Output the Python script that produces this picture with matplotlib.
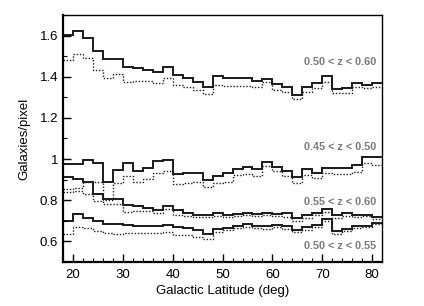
import numpy as np
import matplotlib
matplotlib.use('Agg')
import matplotlib.pyplot as plt
import matplotlib.ticker as ticker

plt.rcParams['font.family'] = ['Liberation Sans', 'DejaVu Sans']

# bin edges, 2 deg wide
lat_edges = np.arange(18, 84, 2)

# 0.50 < z < 0.60
top_solid = [1.603, 1.622, 1.587, 1.523, 1.484, 1.484, 1.447, 1.440, 1.435, 1.423, 1.447,
             1.410, 1.395, 1.375, 1.351, 1.402, 1.395, 1.395, 1.395, 1.381, 1.390, 1.365,
             1.349, 1.310, 1.348, 1.369, 1.403, 1.341, 1.345, 1.370, 1.360, 1.370]
top_dotted = [1.482, 1.512, 1.490, 1.431, 1.396, 1.412, 1.376, 1.380, 1.380, 1.371, 1.395,
              1.359, 1.351, 1.335, 1.316, 1.362, 1.356, 1.356, 1.356, 1.351, 1.373, 1.336,
              1.327, 1.292, 1.327, 1.344, 1.376, 1.320, 1.323, 1.351, 1.344, 1.351]

# 0.45 < z < 0.50
z45_solid = [0.975, 0.975, 0.995, 0.980, 0.890, 0.945, 0.980, 0.940, 0.955, 0.990, 0.993,
             0.927, 0.930, 0.930, 0.896, 0.918, 0.930, 0.952, 0.960, 0.950, 0.984, 0.963,
             0.944, 0.915, 0.950, 0.934, 0.955, 0.955, 0.955, 0.971, 1.010, 1.008]
z45_dotted = [0.855, 0.860, 0.890, 0.890, 0.800, 0.883, 0.918, 0.890, 0.902, 0.934, 0.944,
              0.879, 0.885, 0.890, 0.863, 0.885, 0.890, 0.923, 0.925, 0.918, 0.966, 0.944,
              0.918, 0.882, 0.923, 0.907, 0.931, 0.929, 0.929, 0.939, 0.979, 0.971]

# 0.55 < z < 0.60
z55_solid = [0.912, 0.903, 0.888, 0.832, 0.808, 0.805, 0.775, 0.771, 0.764, 0.752, 0.771,
             0.751, 0.737, 0.727, 0.727, 0.736, 0.729, 0.735, 0.740, 0.733, 0.737, 0.733,
             0.737, 0.713, 0.727, 0.740, 0.757, 0.729, 0.737, 0.730, 0.730, 0.720]
z55_dotted = [0.840, 0.845, 0.830, 0.795, 0.780, 0.780, 0.742, 0.746, 0.746, 0.737, 0.755,
              0.730, 0.721, 0.717, 0.717, 0.725, 0.720, 0.722, 0.727, 0.722, 0.727, 0.724,
              0.720, 0.697, 0.713, 0.727, 0.742, 0.713, 0.722, 0.718, 0.722, 0.708]

# 0.50 < z < 0.55
z50_solid = [0.701, 0.733, 0.713, 0.697, 0.685, 0.684, 0.680, 0.673, 0.674, 0.676, 0.681,
             0.670, 0.665, 0.657, 0.638, 0.662, 0.665, 0.676, 0.685, 0.676, 0.673, 0.681,
             0.673, 0.657, 0.670, 0.681, 0.710, 0.648, 0.660, 0.673, 0.676, 0.687]
z50_dotted = [0.634, 0.670, 0.665, 0.648, 0.640, 0.636, 0.641, 0.641, 0.641, 0.641, 0.645,
              0.632, 0.632, 0.621, 0.611, 0.645, 0.655, 0.665, 0.672, 0.665, 0.662, 0.668,
              0.660, 0.645, 0.657, 0.668, 0.697, 0.638, 0.650, 0.665, 0.672, 0.682]

labels = ['0.50 < z < 0.60', '0.45 < z < 0.50', '0.55 < z < 0.60', '0.50 < z < 0.55']
label_y = [1.47, 1.058, 0.79, 0.576]

fig = plt.figure(figsize=(4.24, 3.06), dpi=100)
ax = fig.add_axes([0.149, 0.144, 0.752, 0.807])

for solid, dotted in [(top_solid, top_dotted), (z45_solid, z45_dotted),
                      (z55_solid, z55_dotted), (z50_solid, z50_dotted)]:
    ax.stairs(solid, lat_edges, baseline=None, color='#1a1a1a', lw=1.4)
    ax.stairs(dotted, lat_edges, baseline=None, color='#1a1a1a', lw=1.0, ls=(0, (1, 1.3)))

for txt, yy in zip(labels, label_y):
    ax.text(80.8, yy, txt, ha='right', va='center', fontsize=7.8, fontweight='bold',
            color='#7a7a7a')

ax.set_xlim(18, 82)
ax.set_ylim(0.5, 1.7)
ax.xaxis.set_major_locator(ticker.MultipleLocator(10))
ax.xaxis.set_minor_locator(ticker.MultipleLocator(2))
ax.yaxis.set_major_locator(ticker.MultipleLocator(0.2))
ax.yaxis.set_minor_locator(ticker.MultipleLocator(0.1))
ax.yaxis.set_major_formatter(ticker.FuncFormatter(lambda v, pos: f'{v:g}'))
ax.tick_params(which='both', direction='in', top=False, right=False, labelsize=9.5)
ax.tick_params(which='major', length=6, width=1)
ax.tick_params(which='minor', length=3, width=0.8)
ax.tick_params(axis='x', pad=5)

ax.spines['left'].set_linewidth(1.6)
ax.spines['bottom'].set_linewidth(1.6)
ax.spines['top'].set_linewidth(1.0)
ax.spines['right'].set_linewidth(1.0)

ax.set_xlabel('Galactic Latitude (deg)', fontsize=9.5, labelpad=3)
ax.set_ylabel('Galaxies/pixel', fontsize=9.5, labelpad=7)

fig.savefig('out.png', dpi=100)
plt.close()
